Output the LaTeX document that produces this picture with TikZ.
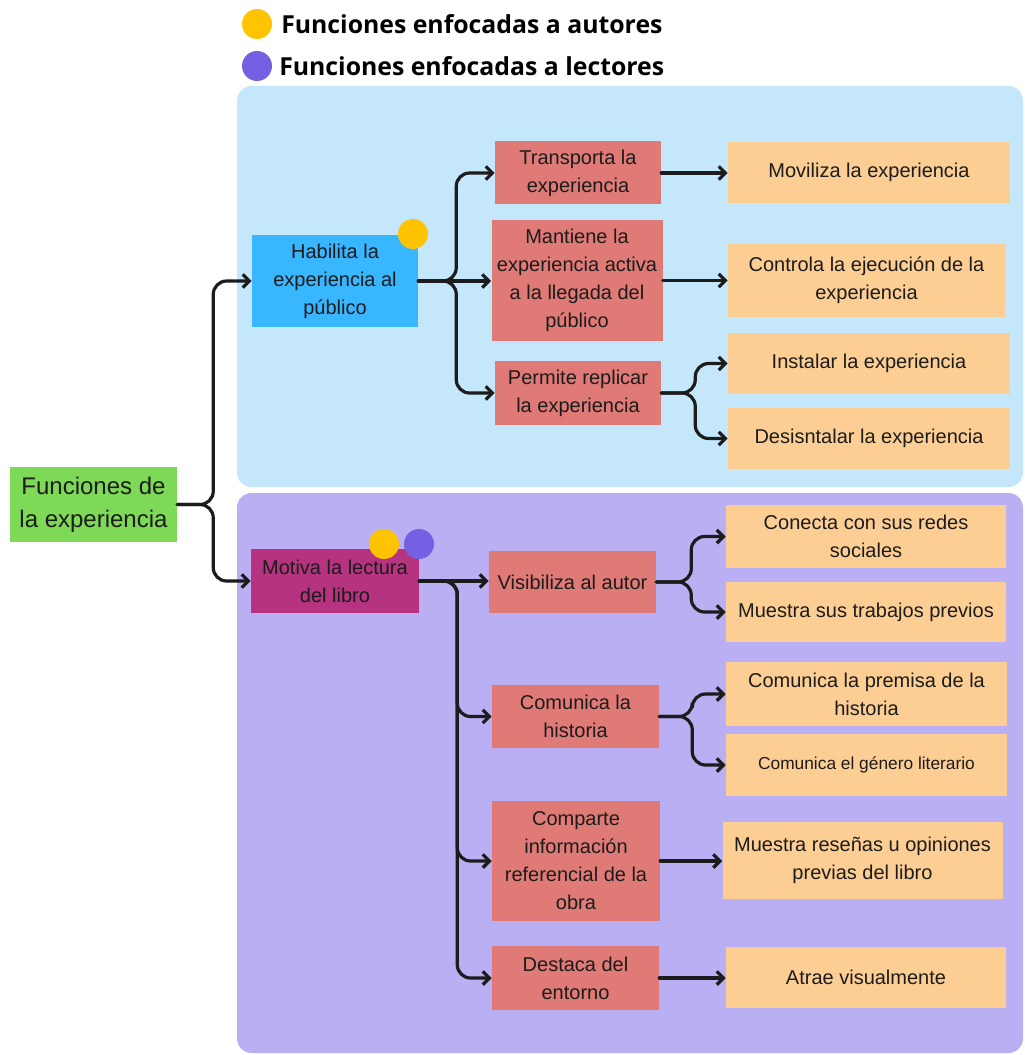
\documentclass[tikz,border=0pt]{standalone}
\usepackage{fontspec}
\setmainfont{Liberation Sans}
\newfontfamily\legendfont{Open Sans}
\usetikzlibrary{arrows.meta}

\definecolor{ink}{HTML}{1C1C1C}
\definecolor{panelblue}{HTML}{C5E7FB}
\definecolor{panelpurple}{HTML}{B9AFF2}
\definecolor{rootgreen}{HTML}{7ED957}
\definecolor{skyblue}{HTML}{38B6FF}
\definecolor{magenta}{HTML}{B6337F}
\definecolor{salmon}{HTML}{DF7A76}
\definecolor{peach}{HTML}{FDCE94}
\definecolor{dotyellow}{HTML}{FFC300}
\definecolor{dotpurple}{HTML}{7560E3}

\begin{document}
\begin{tikzpicture}[x=0.75pt,y=-0.75pt,
  sz/.style 2 args={minimum width=#1*0.75pt, minimum height=#2*0.75pt},
  box/.style={inner sep=0pt, align=center, text=ink, font=\fontsize{15}{21}\selectfont},
  redbox/.style={box, fill=salmon},
  peachbox/.style={box, fill=peach},
  link/.style={draw=ink, line width=2.4pt, line cap=round, line join=round,
    rounded corners=10pt, -{Straight Barb[length=5pt,width=10pt]}},
  dot/.style={circle, inner sep=0pt, minimum size=22.5pt},
  legend/.style={anchor=west, inner sep=0pt, text=black,
    font=\legendfont\bfseries\fontsize{18.6}{20}\selectfont}]

\useasboundingbox (0,0) rectangle (1024,1055);

% background panels
\fill[panelblue, rounded corners=11pt] (237,86) rectangle (1023,487);
\fill[panelpurple, rounded corners=11pt] (237,493) rectangle (1023,1053);

% legend
\node[dot, fill=dotyellow] (legdotA) at (257,24) {};
\node[legend] (legA) at (281,24) {Funciones enfocadas a autores};
\node[dot, fill=dotpurple] (legdotB) at (257,66) {};
\node[legend] (legB) at (279,66) {Funciones enfocadas a lectores};

% root
\node[box, fill=rootgreen, sz={167}{75}, font=\fontsize{18}{24.75}\selectfont]
  (root) at (93.5,504.5) {Funciones de\\la experiencia};

% second level
\node[box, fill=skyblue, sz={166}{92}] (hab) at (335,281) {Habilita la\\experiencia al\\público};
\node[box, fill=magenta, sz={168}{64}] (mot) at (335,581) {Motiva la lectura\\del libro};

% third level
\node[redbox, sz={166}{63}] (tra) at (578,173) {Transporta la\\experiencia};
\node[redbox, sz={171}{120}] (man) at (577,280.5) {Mantiene la\\experiencia activa\\a la llegada del\\público};
\node[redbox, sz={166}{64}] (per) at (578,393) {Permite replicar\\la experiencia};
\node[redbox, sz={167}{62}] (vis) at (572.5,582) {Visibiliza al autor};
\node[redbox, sz={167}{63}] (com) at (575.5,716.5) {Comunica la\\historia};
\node[redbox, sz={168}{120}] (cmp) at (576,861) {Comparte\\información\\referencial de la\\obra};
\node[redbox, sz={167}{64}] (dst) at (575.5,978) {Destaca del\\entorno};

% fourth level
\node[peachbox, sz={282}{61}] (mov) at (869,172.5) {Moviliza la experiencia};
\node[peachbox, sz={277}{73}] (ctl) at (866.5,280.5) {Controla la ejecución de la\\experiencia};
\node[peachbox, sz={282}{61}] (ins) at (869,363.5) {Instalar la experiencia};
\node[peachbox, sz={282}{61}] (des) at (869,438.5) {Desisntalar la experiencia};
\node[peachbox, sz={280}{63}] (red) at (866,536.5) {Conecta con sus redes\\sociales};
\node[peachbox, sz={280}{60}] (trb) at (866,612) {Muestra sus trabajos previos};
\node[peachbox, sz={281}{64}] (pre) at (866.5,694) {Comunica la premisa de la\\historia};
\node[peachbox, sz={281}{62}, font=\fontsize{13}{16}\selectfont] (gen) at (866.5,765) {Comunica el género literario};
\node[peachbox, sz={280}{77}] (res) at (862.5,860.5) {Muestra reseñas u opiniones\\previas del libro};
\node[peachbox, sz={280}{61}] (atr) at (866,977.5) {Atrae visualmente};

% connectors
\draw[link] (root.east) -- ++(36,0) |- (hab.west);
\draw[link] (root.east) -- ++(36,0) |- (mot.west);

\draw[link] (hab.east) -- ++(38,0) |- (tra.west);
\draw[link] (hab.east) -- (hab.east -| man.west);
\draw[link] (hab.east) -- ++(38,0) |- (per.west);

\draw[link] (tra.east) -- (tra.east -| mov.west);
\draw[link] (man.east) -- (man.east -| ctl.west);
\draw[link] (per.east) -- ++(34,0) |- (ins.west);
\draw[link] (per.east) -- ++(34,0) |- (des.west);

\draw[link] (mot.east) -- (mot.east -| vis.west);
\draw[link] (mot.east) -- ++(38,0) |- (com.west);
\draw[link] (mot.east) -- ++(38,0) |- (cmp.west);
\draw[link] (mot.east) -- ++(38,0) |- (dst.west);

\draw[link] (vis.east) -- ++(35,0) |- (red.west);
\draw[link] (vis.east) -- ++(35,0) |- (trb.west);
\draw[link] (com.east) -- ++(33,0) |- (pre.west);
\draw[link] (com.east) -- ++(33,0) |- (gen.west);
\draw[link] (cmp.east) -- (cmp.east -| res.west);
\draw[link] (dst.east) -- (dst.east -| atr.west);

% audience markers
\node[dot, fill=dotyellow] (habdot) at (413,234) {};
\node[dot, fill=dotyellow] (motdotA) at (384,544) {};
\node[dot, fill=dotpurple] (motdotB) at (419,544) {};

\end{tikzpicture}
\end{document}
